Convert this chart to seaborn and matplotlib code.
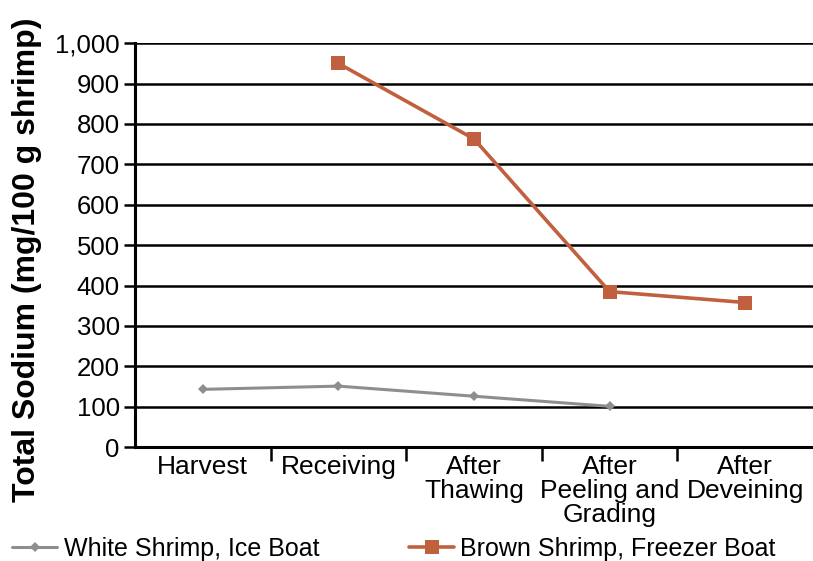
import matplotlib
matplotlib.use("Agg")
import matplotlib.pyplot as plt
import seaborn as sns
import pandas as pd
from matplotlib.ticker import FuncFormatter, FixedLocator

categories = ["Harvest", "Receiving", "After\nThawing", "After\nPeeling and\nGrading", "After\nDeveining"]
white_values = [143, 151, 126, 101, None]
brown_values = [None, 950, 763, 385, 358]
series_names = ["White Shrimp, Ice Boat", "Brown Shrimp, Freezer Boat"]
y_ticks = list(range(0, 1001, 100))

sns.set_theme(style="white")
plt.rcParams['font.family'] = ['Liberation Sans', 'DejaVu Sans']
plt.rcParams['text.color'] = 'black'
plt.rcParams['axes.labelcolor'] = 'black'
plt.rcParams['xtick.color'] = 'black'
plt.rcParams['ytick.color'] = 'black'

rows = []
for i, c in enumerate(categories):
    if white_values[i] is not None:
        rows.append({"pos": i, "value": white_values[i], "series": series_names[0]})
    if brown_values[i] is not None:
        rows.append({"pos": i, "value": brown_values[i], "series": series_names[1]})
df = pd.DataFrame(rows)

fig = plt.figure(figsize=(8.13, 5.61), dpi=100)
ax = fig.add_axes([0.166, 0.203, 0.834, 0.72])

ax.set_axisbelow(True)
for v in y_ticks[1:]:
    ax.axhline(v, color="black", lw=1.8, zorder=0)

sns.lineplot(data=df[df.series == series_names[0]], x="pos", y="value", ax=ax,
             color="#8e8e8e", lw=2.2, marker="D", markersize=5, markeredgewidth=0,
             label=series_names[0])
sns.lineplot(data=df[df.series == series_names[1]], x="pos", y="value", ax=ax,
             color="#c1603f", lw=2.6, marker="s", markersize=10, markeredgewidth=0,
             label=series_names[1])

ax.set_xlim(-0.5, 4.5)
ax.set_ylim(0, 1000)
ax.set_yticks(y_ticks)
ax.yaxis.set_major_formatter(FuncFormatter(lambda v, p: f"{int(v):,}"))
ax.set_xticks(range(len(categories)))
ax.set_xticklabels(categories, fontsize=19, linespacing=1.0)
ax.xaxis.set_minor_locator(FixedLocator([0.5, 1.5, 2.5, 3.5]))
ax.tick_params(axis="x", which="major", length=0, pad=6)
ax.tick_params(axis="x", which="minor", length=10, width=1.8, color="black", direction="out", bottom=True)
ax.tick_params(axis="y", length=8, width=1.8, color="black", direction="out", left=True, labelsize=18.5, pad=3)

for s in ["top", "right"]:
    ax.spines[s].set_visible(False)
for s in ["left", "bottom"]:
    ax.spines[s].set_color("black")
    ax.spines[s].set_linewidth(2.2)

ax.set_xlabel("")
ax.set_ylabel("Total Sodium (mg/100 g shrimp)", fontsize=23, fontweight="bold")
ax.yaxis.set_label_coords(-0.137, 0.463)

ax.legend_.remove()
handles, labels = ax.get_legend_handles_labels()
fig.legend(handles, labels, loc="lower left", bbox_to_anchor=(0.003, -0.017), ncol=2,
           frameon=False, fontsize=18, handlelength=1.8, handletextpad=0.25,
           columnspacing=3.6, borderaxespad=0)

fig.savefig("out.png", dpi=100)
